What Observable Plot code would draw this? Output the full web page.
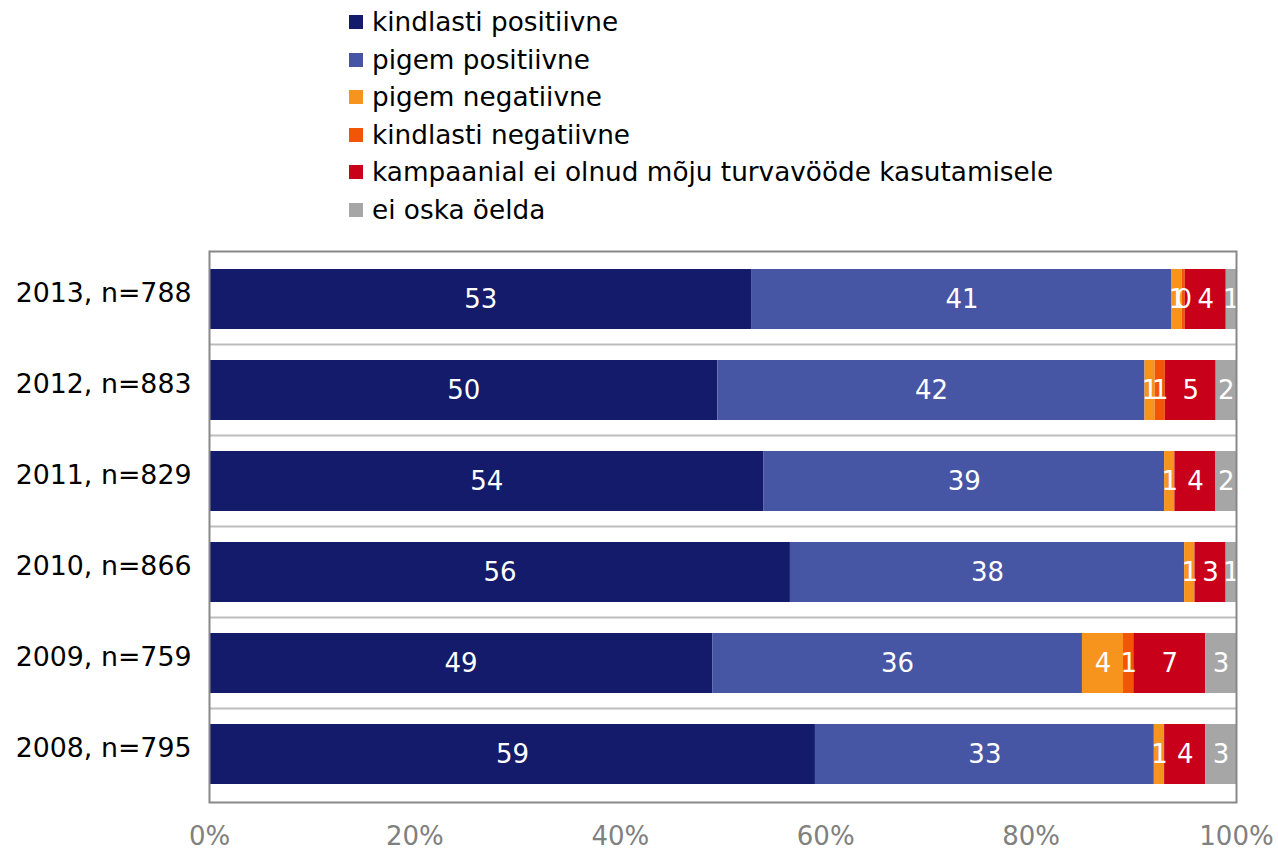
<!DOCTYPE html>
<html>
<head>
<meta charset="utf-8">
<script src="https://cdn.jsdelivr.net/npm/d3@7"></script>
<script src="https://cdn.jsdelivr.net/npm/@observablehq/plot@0.6"></script>
<style>
  body { margin: 0; background: #fff; font-family: "DejaVu Sans", Verdana, sans-serif; }
  #legend { position: relative; height: 240px; width: 1278px; }
  .item { position: absolute; left: 349px; height: 30px; display: flex; align-items: center; font-size: 26.3px; color: #000; white-space: nowrap; }
  .sw { width: 14px; height: 14px; margin-right: 9px; flex: none; }
</style>
</head>
<body>
<div id="legend"></div>
<div id="chart"></div>
<script>
const years = ["2013, n=788", "2012, n=883", "2011, n=829", "2010, n=866", "2009, n=759", "2008, n=795"];
const categories = ["kindlasti positiivne", "pigem positiivne", "pigem negatiivne", "kindlasti negatiivne", "kampaanial ei olnud mõju turvavööde kasutamisele", "ei oska öelda"];
const colors = ["#141b6b", "#4755a5", "#f7941d", "#f25506", "#c8001a", "#a6a6a6"];
const kindlastiPositiivne = [53, 50, 54, 56, 49, 59];
const pigemPositiivne = [41, 42, 39, 38, 36, 33];
const pigemNegatiivne = [1, 1, 1, 1, 4, 1];
const kindlastiNegatiivne = [0.3, 1, 0, 0, 1, 0];
const kampaania = [4, 5, 4, 3, 7, 4];
const eiOska = [1, 2, 2, 1, 3, 3];
const xTicks = [0, 0.2, 0.4, 0.6, 0.8, 1];

const series = [kindlastiPositiivne, pigemPositiivne, pigemNegatiivne, kindlastiNegatiivne, kampaania, eiOska];
const data = [];
years.forEach((y, i) => categories.forEach((c, j) => data.push({year: y, cat: c, value: series[j][i]})));

// legend
const leg = document.getElementById("legend");
categories.forEach((c, j) => {
  const d = document.createElement("div");
  d.className = "item";
  d.style.top = (22 + 37.6 * j - 15) + "px";
  d.innerHTML = `<span class="sw" style="background:${colors[j]}"></span><span>${c}</span>`;
  leg.appendChild(d);
});

const stackOpts = {x: "value", y: "year", z: "cat", offset: "normalize", order: categories};

const chart = Plot.plot({
  width: 1278,
  height: 611,
  marginTop: 11,
  marginBottom: 49,
  marginLeft: 209,
  marginRight: 42,
  style: {fontFamily: "DejaVu Sans, Verdana, sans-serif", fontSize: "26px", background: "#fff"},
  x: {domain: [0, 1], ticks: xTicks, tickFormat: d3.format(".0%")},
  y: {domain: years, paddingInner: 0.337, paddingOuter: 0.168, label: null},
  color: {domain: categories, range: colors},
  marks: [
    Plot.ruleY(years.slice(1), {y: d => d, dy: -46, stroke: "#bdbdbd", strokeWidth: 2}),
    Plot.barX(data, Plot.stackX({...stackOpts, fill: "cat"})),
    Plot.textX(data.filter(d => d.value > 0), Plot.stackX({...stackOpts, text: d => Math.round(d.value), fill: "#fff", fontSize: 26})),
    Plot.frame({stroke: "#888", strokeWidth: 2}),
    Plot.axisX(xTicks, {tickFormat: d3.format(".0%"), tickSize: 0, tickPadding: 24, fill: "#808080", label: null, fontSize: 26}),
    Plot.axisY({tickSize: 0, tickPadding: 18, fill: "#000", label: null, fontSize: 26.8, dy: -6})
  ]
});
document.getElementById("chart").appendChild(chart);
</script>
</body>
</html>
